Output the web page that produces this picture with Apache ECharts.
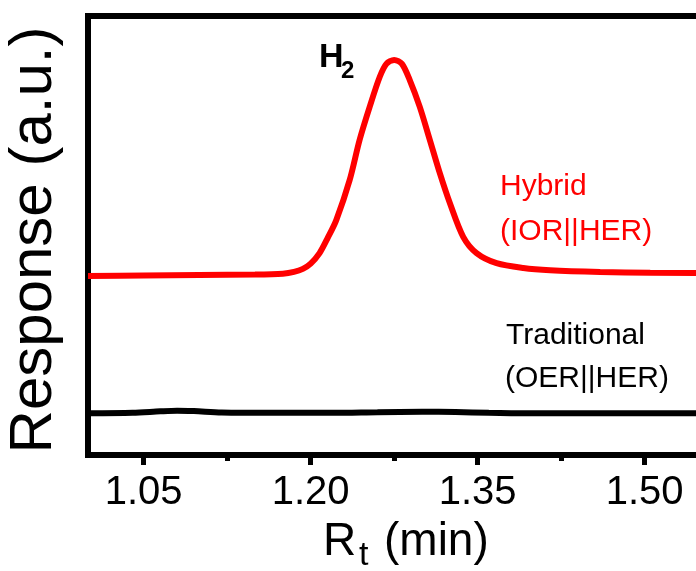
<!DOCTYPE html>
<html>
<head>
<meta charset="utf-8">
<script src="https://cdn.jsdelivr.net/npm/echarts@6/dist/echarts.min.js"></script>
<style>
html,body{margin:0;padding:0;background:#fff;}
#c{width:696px;height:571px;}
</style>
</head>
<body>
<div id="c"></div>
<script>
// Retention time (min) and response (a.u.) — Hybrid (IOR||HER)
const rtHybrid   = [1.000, 1.050, 1.100, 1.150, 1.175, 1.185, 1.193, 1.200, 1.208, 1.215, 1.223, 1.235, 1.244, 1.253, 1.262, 1.268, 1.275, 1.282, 1.289, 1.298, 1.307, 1.316, 1.325, 1.337, 1.349, 1.367, 1.391, 1.415, 1.460, 1.505, 1.600];
const respHybrid = [40.8, 40.9, 41.0, 41.1, 41.3, 41.7, 42.4, 43.6, 46.0, 49.3, 53.5, 62.6, 71.8, 79.3, 86.1, 89.1, 90.0, 89.1, 85.4, 79.3, 71.8, 64.2, 57.4, 49.7, 46.0, 43.7, 42.6, 42.1, 41.7, 41.5, 41.4];
// Traditional (OER||HER)
const rtTraditional   = [1.000, 1.040, 1.065, 1.080, 1.095, 1.120, 1.160, 1.220, 1.260, 1.300, 1.330, 1.360, 1.400, 1.500, 1.600];
const respTraditional = [9.5, 9.6, 9.95, 10.1, 10.0, 9.7, 9.6, 9.6, 9.75, 9.85, 9.8, 9.6, 9.5, 9.5, 9.5];
// Axis ticks
const xTickValues = [1.05, 1.20, 1.35, 1.50];
const xMinorTickValues = [1.125, 1.275, 1.425, 1.575];

const FONT = '"Liberation Sans", Arial, Helvetica, sans-serif';
const pairs = (xs, ys) => xs.map((x, i) => [x, ys[i]]);

const chart = echarts.init(document.getElementById('c'), null, {renderer: 'canvas'});
const axisLineStyle = {color: '#000', width: 6, cap: 'square'};

chart.setOption({
  animation: false,
  backgroundColor: '#fff',
  grid: {left: 88, top: 16, height: 439, width: 668, containLabel: false, outerBoundsMode: 'none'},
  xAxis: [
    {
      type: 'value', position: 'bottom', min: 1.0, max: 1.6,
      axisLine: {show: true, onZero: false, lineStyle: axisLineStyle},
      axisTick: {show: true, inside: false, length: 10, customValues: xTickValues, lineStyle: {color: '#000', width: 5}},
      axisLabel: {show: true, customValues: xTickValues, margin: 18, color: '#000', fontSize: 40, fontFamily: FONT,
                  formatter: v => v.toFixed(2)},
      splitLine: {show: false}
    },
    {
      type: 'value', position: 'top', min: 1.0, max: 1.6,
      axisLine: {show: true, onZero: false, lineStyle: axisLineStyle},
      axisTick: {show: false}, axisLabel: {show: false}, splitLine: {show: false}
    },
    {
      type: 'value', position: 'bottom', min: 1.0, max: 1.6,
      axisLine: {show: false, onZero: false},
      axisTick: {show: true, inside: false, length: 6, customValues: xMinorTickValues, lineStyle: {color: '#000', width: 5}},
      axisLabel: {show: false}, splitLine: {show: false}
    }
  ],
  yAxis: {
    type: 'value', min: 0, max: 100,
    axisLine: {show: true, onZero: false, lineStyle: axisLineStyle},
    axisTick: {show: false}, axisLabel: {show: false}, splitLine: {show: false}
  },
  series: [
    {
      name: 'Hybrid (IOR||HER)', type: 'line', xAxisIndex: 0,
      data: pairs(rtHybrid, respHybrid),
      smooth: 0.3, showSymbol: false,
      lineStyle: {color: '#ff0000', width: 6}, itemStyle: {color: '#ff0000'}
    },
    {
      name: 'Traditional (OER||HER)', type: 'line', xAxisIndex: 0,
      data: pairs(rtTraditional, respTraditional),
      smooth: 0.3, showSymbol: false,
      lineStyle: {color: '#000000', width: 6}, itemStyle: {color: '#000000'}
    }
  ],
  graphic: [
    {type: 'text', x: 34, y: 240, rotation: Math.PI / 2,
     style: {text: 'Response (a.u.)', fill: '#000', font: '60px ' + FONT, textAlign: 'center', textVerticalAlign: 'middle', align: 'center', verticalAlign: 'middle'}},
    {type: 'text', x: 323, y: 542,
     style: {text: 'R', fill: '#000', font: '46px ' + FONT, textAlign: 'left', textVerticalAlign: 'middle', align: 'left', verticalAlign: 'middle'}},
    {type: 'text', x: 359, y: 556,
     style: {text: 't', fill: '#000', font: '34px ' + FONT, textAlign: 'left', textVerticalAlign: 'middle', align: 'left', verticalAlign: 'middle'}},
    {type: 'text', x: 384, y: 542,
     style: {text: '(min)', fill: '#000', font: '46px ' + FONT, textAlign: 'left', textVerticalAlign: 'middle', align: 'left', verticalAlign: 'middle'}},
    {type: 'text', x: 319, y: 58,
     style: {text: 'H', fill: '#000', font: 'bold 34px ' + FONT, textAlign: 'left', textVerticalAlign: 'middle', align: 'left', verticalAlign: 'middle'}},
    {type: 'text', x: 341, y: 71,
     style: {text: '2', fill: '#000', font: 'bold 24px ' + FONT, textAlign: 'left', textVerticalAlign: 'middle', align: 'left', verticalAlign: 'middle'}},
    {type: 'text', x: 500, y: 187,
     style: {text: 'Hybrid', fill: '#ff0000', font: '30px ' + FONT, textAlign: 'left', textVerticalAlign: 'middle', align: 'left', verticalAlign: 'middle'}},
    {type: 'text', x: 500, y: 232,
     style: {text: '(IOR||HER)', fill: '#ff0000', font: '30px ' + FONT, textAlign: 'left', textVerticalAlign: 'middle', align: 'left', verticalAlign: 'middle'}},
    {type: 'text', x: 506, y: 336,
     style: {text: 'Traditional', fill: '#000', font: '30px ' + FONT, textAlign: 'left', textVerticalAlign: 'middle', align: 'left', verticalAlign: 'middle'}},
    {type: 'text', x: 505, y: 379,
     style: {text: '(OER||HER)', fill: '#000', font: '30px ' + FONT, textAlign: 'left', textVerticalAlign: 'middle', align: 'left', verticalAlign: 'middle'}}
  ]
});
</script>
</body>
</html>
